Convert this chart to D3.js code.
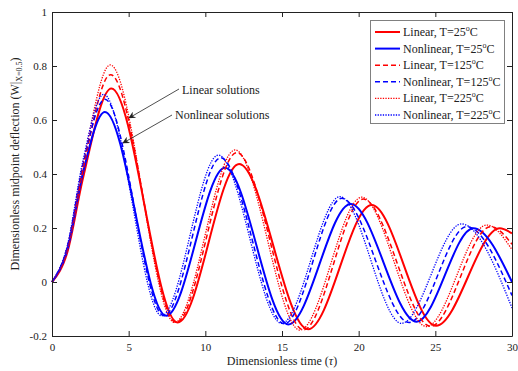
<!DOCTYPE html>
<meta charset="utf-8">

<style>
    body {
        margin: 0;
        background: white;
    }

    svg text {
        font-family: "Times New Roman", "Liberation Serif", "DejaVu Serif", serif !important;
    }
</style>

<script src="https://d3js.org/d3.v7.min.js"></script>

<body>
<script>

    // [tau, W] points (start, peaks, troughs, end)
    var linear25 = [[0, 0], [1, 0.11], [2, 0.38], [3.87, 0.717], [8.2, -0.15], [12.2, 0.437], [16.7, -0.175], [20.85, 0.285], [25.05, -0.162], [29.2, 0.199], [30, 0.18]]
    var nonlinear25 = [[0, 0], [1, 0.12], [2, 0.4], [3.45, 0.63], [7.45, -0.125], [11.28, 0.423], [15.41, -0.157], [19.48, 0.289], [23.78, -0.147], [27.48, 0.199], [30, 0.0]]
    var linear125 = [[0, 0], [1, 0.12], [2, 0.41], [3.82, 0.768], [8.1, -0.15], [12.05, 0.479], [16.4, -0.177], [20.3, 0.307], [24.7, -0.164], [28.6, 0.205], [30, 0.14]]
    var nonlinear125 = [[0, 0], [1, 0.13], [2, 0.43], [3.45, 0.677], [7.3, -0.125], [11.0, 0.46], [15.15, -0.155], [18.9, 0.31], [23.3, -0.15], [27.05, 0.205], [30, -0.05]]
    var linear225 = [[0, 0], [1, 0.13], [2, 0.43], [3.8, 0.804], [8.0, -0.15], [11.94, 0.489], [16.17, -0.178], [20.2, 0.314], [24.43, -0.165], [28.35, 0.211], [30, 0.12]]
    var nonlinear225 = [[0, 0], [1, 0.135], [2, 0.445], [3.37, 0.695], [7.15, -0.125], [10.85, 0.47], [14.98, -0.153], [18.78, 0.316], [22.8, -0.153], [26.7, 0.215], [30, -0.096]]

    var seriesNames = ["Linear, T=25", "Nonlinear, T=25", "Linear, T=125", "Nonlinear, T=125", "Linear, T=225", "Nonlinear, T=225"]

    var xTicks = [0, 5, 10, 15, 20, 25, 30]
    var yTicks = [-0.2, 0, 0.2, 0.4, 0.6, 0.8, 1]

    var width = 518
    var height = 371

    var series = [
        { name: seriesNames[0], data: linear25, color: "#ff0000", dash: null, w: 2 },
        { name: seriesNames[1], data: nonlinear25, color: "#0000ff", dash: null, w: 2 },
        { name: seriesNames[2], data: linear125, color: "#ff0000", dash: "5,3", w: 1.5 },
        { name: seriesNames[3], data: nonlinear125, color: "#0000ff", dash: "5,3", w: 1.5 },
        { name: seriesNames[4], data: linear225, color: "#ff0000", dash: "1.3,1.3", w: 1.3 },
        { name: seriesNames[5], data: nonlinear225, color: "#0000ff", dash: "1.3,1.3", w: 1.3 }
    ]

    var x = d3.scaleLinear().domain([0, 30]).range([52, 512])
    var y = d3.scaleLinear().domain([-0.2, 1]).range([336, 12])

    var svg = d3.select("body")
        .append("svg")
        .attr("width", width)
        .attr("height", height)
        .attr("font-family", "Times New Roman, Liberation Serif, serif")

    svg.append("defs").append("marker")
        .attr("id", "arrow")
        .attr("viewBox", "0 0 10 10")
        .attr("refX", 9)
        .attr("refY", 5)
        .attr("markerWidth", 9)
        .attr("markerHeight", 7)
        .attr("markerUnits", "userSpaceOnUse")
        .attr("orient", "auto")
        .append("path")
        .attr("d", "M0,0 L10,5 L0,10 L3,5 Z")
        .attr("fill", "#222")

    var line = d3.line()
        .x(function (d) { return x(d[0]) })
        .y(function (d) { return y(d[1]) })
        .curve(d3.curveMonotoneX)

    var plot = svg.append("g")

    plot.selectAll("path.curve")
        .data(series)
        .enter()
        .append("path")
        .attr("class", "curve")
        .attr("d", function (d) { return line(d.data) })
        .attr("fill", "none")
        .attr("stroke", function (d) { return d.color })
        .attr("stroke-width", function (d) { return d.w })
        .attr("stroke-dasharray", function (d) { return d.dash })

    // axes, ticks inside on all four sides
    var fmt = function (d) { return String(d) }

    var gx = svg.append("g")
        .attr("transform", "translate(0,336)")
        .call(d3.axisBottom(x).tickValues(xTicks).tickSizeInner(-5).tickSizeOuter(0).tickPadding(7).tickFormat(fmt))
    svg.append("g")
        .attr("transform", "translate(0,12)")
        .call(d3.axisTop(x).tickValues(xTicks).tickSizeInner(-5).tickSizeOuter(0).tickFormat(""))
    var gy = svg.append("g")
        .attr("transform", "translate(52,0)")
        .call(d3.axisLeft(y).tickValues(yTicks).tickSizeInner(-5).tickSizeOuter(0).tickPadding(5).tickFormat(fmt))
    svg.append("g")
        .attr("transform", "translate(512,0)")
        .call(d3.axisRight(y).tickValues(yTicks).tickSizeInner(-5).tickSizeOuter(0).tickFormat(""))

    svg.selectAll(".tick text")
        .attr("font-size", "11px")
        .attr("fill", "#222")
    svg.selectAll(".domain, .tick line")
        .attr("stroke", "#222")

    // axis titles
    var xt = svg.append("text")
        .attr("x", 282)
        .attr("y", 365)
        .attr("text-anchor", "middle")
        .attr("font-size", "12px")
        .attr("fill", "#222")
    xt.append("tspan").text("Dimensionless time (")
    xt.append("tspan").text("τ").attr("font-style", "italic")
    xt.append("tspan").text(")")

    var yt = svg.append("text")
        .attr("transform", "translate(19,164) rotate(-90)")
        .attr("text-anchor", "middle")
        .attr("font-size", "12px")
        .attr("fill", "#222")
    yt.append("tspan").text("Dimensionless midpoint deflection (W|")
    yt.append("tspan").text("X=0.5").attr("font-size", "8px").attr("dy", 3)
    yt.append("tspan").text(")").attr("dy", -3)

    // annotations
    svg.append("text")
        .text("Linear solutions")
        .attr("x", 182)
        .attr("y", 94)
        .attr("font-size", "12px")
        .attr("fill", "#222")
    svg.append("text")
        .text("Nonlinear solutions")
        .attr("x", 175)
        .attr("y", 119)
        .attr("font-size", "12px")
        .attr("fill", "#222")
    svg.append("line")
        .attr("x1", 179).attr("y1", 89)
        .attr("x2", 129).attr("y2", 118)
        .attr("stroke", "#222").attr("stroke-width", 0.8)
        .attr("marker-end", "url(#arrow)")
    svg.append("line")
        .attr("x1", 172).attr("y1", 115)
        .attr("x2", 123).attr("y2", 143)
        .attr("stroke", "#222").attr("stroke-width", 0.8)
        .attr("marker-end", "url(#arrow)")

    // legend
    var legend = svg.append("g")
    legend.append("rect")
        .attr("x", 370.5)
        .attr("y", 20.5)
        .attr("width", 134)
        .attr("height", 103)
        .attr("fill", "white")
        .attr("stroke", "#808080")

    var rows = legend.selectAll("g.row")
        .data(series)
        .enter()
        .append("g")
        .attr("class", "row")
        .attr("transform", function (d, i) { return "translate(0," + (32 + i * 16.6) + ")" })

    rows.append("line")
        .attr("x1", 375).attr("x2", 400)
        .attr("y1", 0).attr("y2", 0)
        .attr("stroke", function (d) { return d.color })
        .attr("stroke-width", function (d) { return d.w })
        .attr("stroke-dasharray", function (d) { return d.dash })

    var lt = rows.append("text")
        .attr("x", 403)
        .attr("y", 4)
        .attr("font-size", "12px")
        .attr("fill", "#222")
    lt.append("tspan").text(function (d) { return d.name })
    lt.append("tspan").text("o").attr("font-size", "8px").attr("dy", -5)
    lt.append("tspan").text("C").attr("dy", 5)

</script>
</body>
